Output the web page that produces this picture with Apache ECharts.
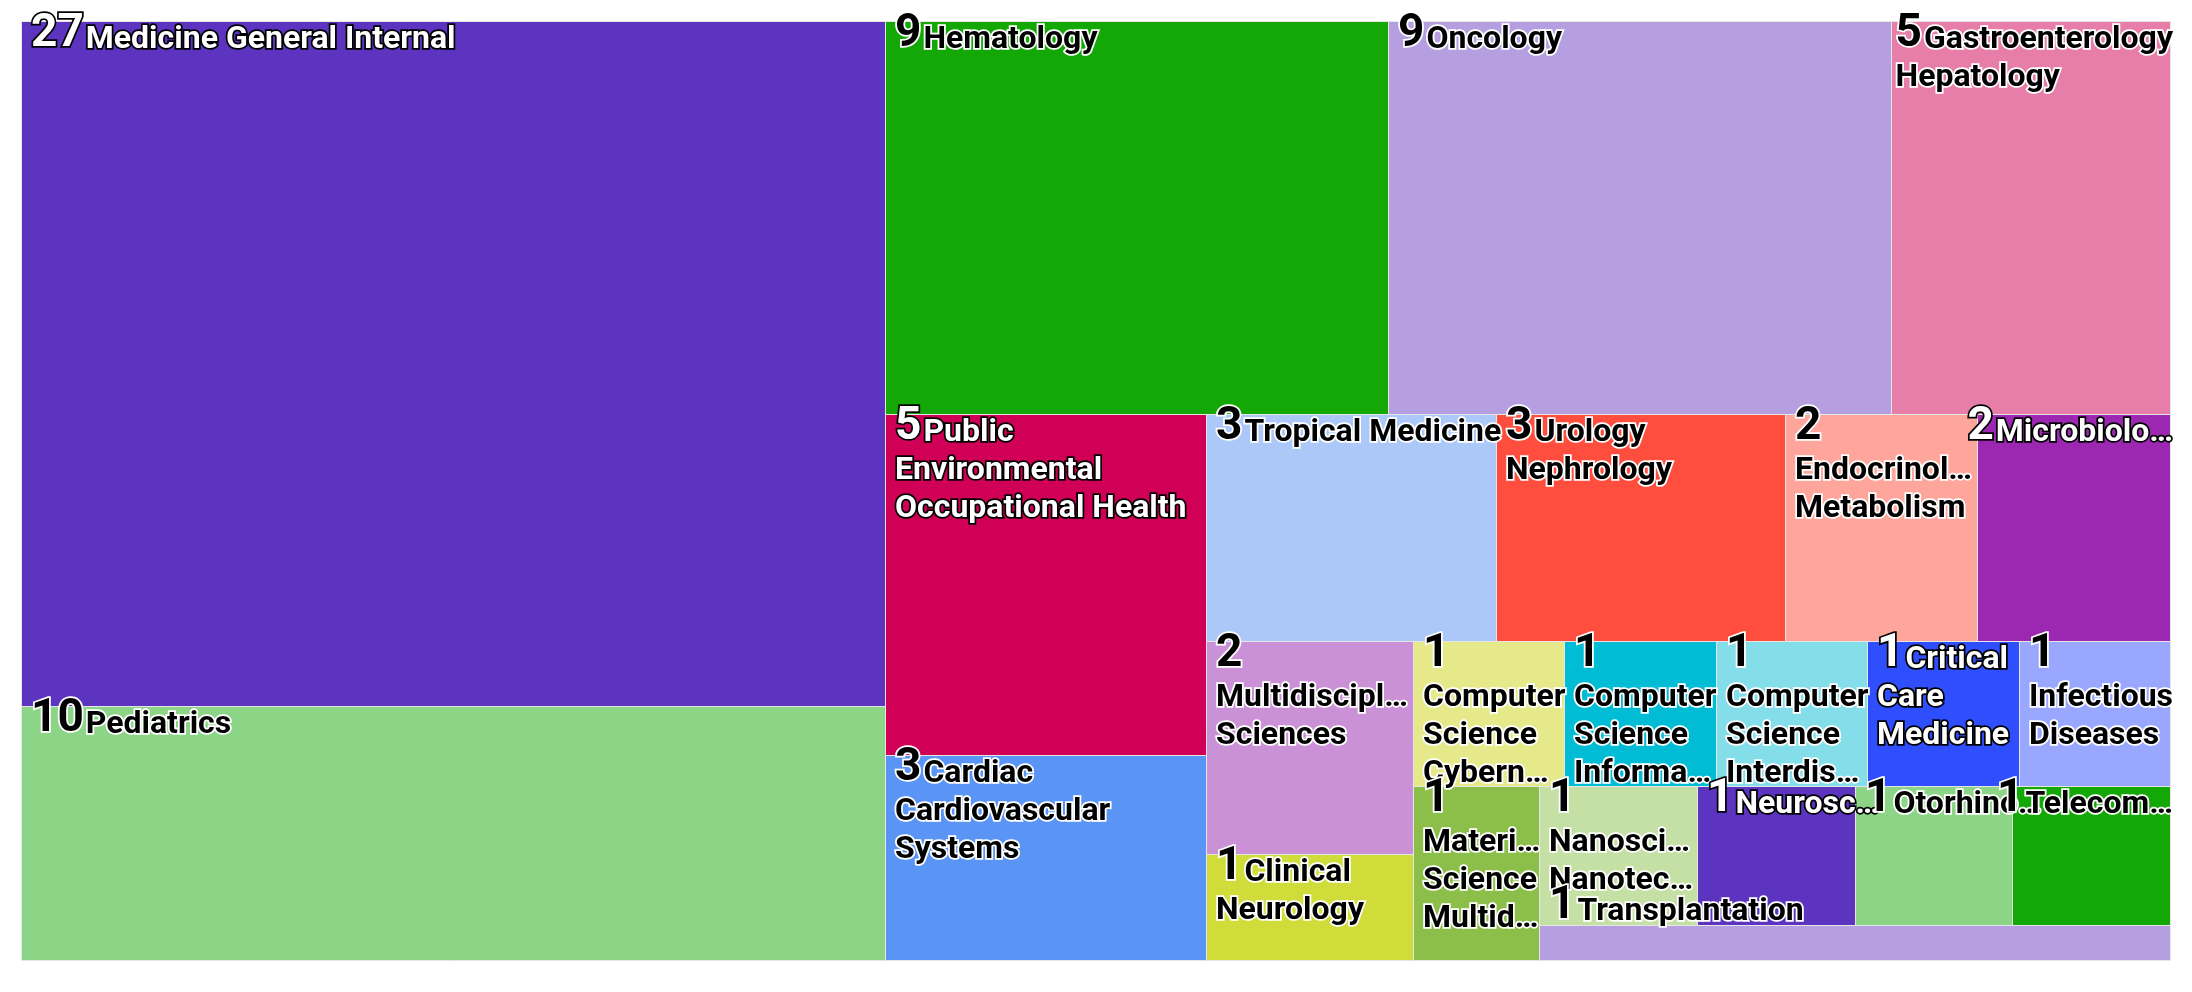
<!DOCTYPE html>
<html lang="en">
<head>
<meta charset="UTF-8">
<title>Treemap</title>
<script src="https://cdn.jsdelivr.net/npm/echarts@6/dist/echarts.min.js"></script>
<style>
  html, body { margin: 0; padding: 0; background: #fff; }
  #main { width: 2192px; height: 992px; }
</style>
</head>
<body>
<div id="main"></div>
<script>
// subject categories, sorted by count (ties alphabetical)
const categories = [
  'Medicine General Internal', 'Pediatrics', 'Hematology', 'Oncology',
  'Gastroenterology Hepatology', 'Public Environmental Occupational Health',
  'Cardiac Cardiovascular Systems', 'Tropical Medicine', 'Urology Nephrology',
  'Endocrinology Metabolism', 'Microbiology', 'Multidisciplinary Sciences',
  'Clinical Neurology', 'Computer Science Cybernetics',
  'Computer Science Information Systems',
  'Computer Science Interdisciplinary Applications', 'Critical Care Medicine',
  'Infectious Diseases', 'Materials Science Multidisciplinary',
  'Nanoscience Nanotechnology', 'Neurosciences', 'Otorhinolaryngology',
  'Telecommunications', 'Transplantation'
];
const counts = [27, 10, 9, 9, 5, 5, 3, 3, 3, 2, 2, 2, 1, 1, 1, 1, 1, 1, 1, 1, 1, 1, 1, 1];

// one colour per category, same order as above
const cellColors = [
  '#5c34c0', '#8cd586', '#13a805', '#b59fe0',
  '#e67ea9', '#cf0055',
  '#5a95f5', '#abc8f8', '#ff4e3e',
  '#ffa69c', '#9c27b0', '#ca91d6',
  '#cfdc39', '#e5e98a',
  '#00bcd4',
  '#83deea', '#2f4ffe',
  '#99a7fe', '#8bbf4a',
  '#c5e0a5', '#5c34c0', '#8cd586',
  '#13a805', '#b59fe0'
];

const NUM_FONT = 'bold 46px Roboto';
const NAME_FONT = 'bold 32px Roboto';
const GRID = { left: 21, top: 21, right: 22, bottom: 32 };

// ---- text measuring / wrapping ----
const ctx = document.createElement('canvas').getContext('2d');
function measure(str, font) {
  ctx.font = font;
  return ctx.measureText(str).width;
}
function truncate(word, limit) {
  for (let n = word.length - 1; n > 0; n--) {
    const s = word.slice(0, n) + '\u2026';
    if (measure(s, NAME_FONT) <= limit) return s;
  }
  return word.charAt(0) + '\u2026';
}
function buildLines(num, name, cellW) {
  const numW = measure(num, NUM_FONT) + 2;
  const spaceW = measure(' ', NAME_FONT);
  const words = name.split(' ');
  const fit = cellW + 1;
  const firstCut = cellW - 7;
  const cut = cellW < 140 ? cellW - 7 : cellW - 9;
  const lines = [{ num: num, numW: numW, text: '', width: numW }];
  let cur = lines[0];
  words.forEach(function (w) {
    const ww = measure(w, NAME_FONT);
    const gap = cur.text ? spaceW : 0;
    if (cur.width + gap + ww <= fit) {
      cur.text += (cur.text ? ' ' : '') + w;
      cur.width += gap + ww;
      return;
    }
    if (words.length === 1) {
      cur.text = truncate(w, firstCut);
      cur.width += measure(cur.text, NAME_FONT);
      return;
    }
    cur = { num: '', numW: 0, text: '', width: 0 };
    lines.push(cur);
    cur.text = ww <= fit ? w : truncate(w, cut);
    cur.width = measure(cur.text, NAME_FONT);
  });
  return lines;
}

// WCAG contrast like the original labels: white on dark, black on light
function isDark(hex) {
  const lin = [1, 3, 5].map(function (k) {
    const c = parseInt(hex.slice(k, k + 2), 16) / 255;
    return c <= 0.03928 ? c / 12.92 : Math.pow((c + 0.055) / 1.055, 2.4);
  });
  const l = 0.2126 * lin[0] + 0.7152 * lin[1] + 0.0722 * lin[2];
  return 1.05 / (l + 0.05) > (l + 0.05) / 0.05;
}

// ---- squarified layout with alternating direction ----
function Group(h, w, d, plot) {
  this.height = h; this.width = w; this.plot = plot; this.direction = d;
  this.total = 0; this.nW = 0; this.lW = 0; this.nH = 0; this.lH = 0;
  this.elArr = [];
  this.lP = { total: 0, lH: 0, nH: 0, lW: 0, nW: 0, nR: 0, lR: 0 };
}
function ratio(a, b) { return Math.max(a / b, b / a); }
Group.prototype.addElement = function (el) {
  const lP = this.lP;
  lP.total = this.elArr[this.elArr.length - 1];
  this.total += el;
  if (this.direction === 0) {
    this.lW = this.nW;
    lP.lH = lP.total / this.lW;
    lP.lR = ratio(this.lW, lP.lH);
    this.nW = this.total / this.height;
    lP.nH = lP.total / this.nW;
    lP.nR = ratio(this.nW, lP.nH);
  } else {
    this.lH = this.nH;
    lP.lW = lP.total / this.lH;
    lP.lR = ratio(lP.lW, this.lH);
    this.nH = this.total / this.width;
    lP.nW = lP.total / this.nH;
    lP.nR = ratio(lP.nW, this.nH);
  }
  this.elArr.push(el);
};
Group.prototype.reset = function () {
  this.nW = 0; this.lW = 0; this.elArr = []; this.total = 0;
};
function calcPoints(last, group, out) {
  const plot = group.plot;
  const end = group.elArr.length - 1;
  let gW = group.lW, gH = group.lH, keep;
  if (last) { gW = group.nW; gH = group.nH; } else { keep = group.elArr[end]; }
  group.elArr.forEach(function (p, i) {
    if (last || i < end) {
      let pW, pH;
      if (group.direction === 0) { pW = gW; pH = p / pW; } else { pH = gH; pW = p / pH; }
      out.push({ x: plot.x, y: plot.y, width: pW, height: pH });
      if (group.direction === 0) plot.y += pH; else plot.x += pW;
    }
  });
  group.reset();
  if (group.direction === 0) group.width -= gW; else group.height -= gH;
  plot.y = plot.parent.y + (plot.parent.height - group.height);
  plot.x = plot.parent.x + (plot.parent.width - group.width);
  group.direction = 1 - group.direction;
  if (!last) group.addElement(keep);
}
function layout(W, H, values) {
  const total = values.reduce(function (a, b) { return a + b; }, 0);
  const parent = { x: 0, y: 0, width: W, height: H };
  const plot = { x: 0, y: 0, parent: parent };
  const group = new Group(H, W, 0, plot);
  const out = [];
  values.forEach(function (v, i) {
    group.addElement(W * H * v / total);
    if (group.lP.nR > group.lP.lR) calcPoints(false, group, out);
    if (i === values.length - 1) calcPoints(true, group, out);
  });
  return out;
}

const chart = echarts.init(document.getElementById('main'));
const plotW = chart.getWidth() - GRID.left - GRID.right;
const plotH = chart.getHeight() - GRID.top - GRID.bottom;
const SPACE_W = 100 * plotW / plotH;
const SPACE_H = 100;

const cells = layout(SPACE_W, SPACE_H, counts).map(function (r, i) {
  return [r.x, r.y, r.x + r.width, r.y + r.height, i];
});

function renderCell(params, api) {
  const i = api.value(4);
  const p0 = api.coord([api.value(0), api.value(1)]);
  const p1 = api.coord([api.value(2), api.value(3)]);
  const cs = params.coordSys;
  const x0 = Math.round(Math.min(p0[0], p1[0]));
  const y0 = Math.round(Math.min(p0[1], p1[1]));
  const x1 = Math.round(Math.max(p0[0], p1[0]));
  const y1 = Math.round(Math.max(p0[1], p1[1]));
  const w = x1 - x0, h = y1 - y0;
  const color = cellColors[i];
  const dark = isDark(color);
  const fill = dark ? '#ffffff' : '#000000';
  const outline = dark ? '#000000' : '#ffffff';

  const children = [{
    type: 'rect',
    z2: 0,
    shape: { x: x0 + 0.5, y: y0 + 0.5, width: w, height: h },
    style: { fill: color, stroke: '#e6e6e6', lineWidth: 1 }
  }];

  const lines = buildLines(String(counts[i]), categories[i], w);
  let base = y0 + 29.5;
  if (h < 42) base = Math.min(y1, cs.y + cs.height) - 37.5;
  let tx = x0 + 10;
  const maxRight = tx + Math.max.apply(null, lines.map(function (l) { return l.width; }));
  const plotRight = cs.x + cs.width;
  if (maxRight > plotRight + 8) tx -= maxRight - (plotRight + 3);

  lines.forEach(function (line, k) {
    const by = base + 38 * k;
    if (h >= 42 && by - y0 > h + 2) return;
    if (line.num) {
      children.push({
        type: 'text', z2: 10,
        style: {
          text: line.num, x: tx, y: by - 0.342 * 46, font: NUM_FONT,
          fill: fill, stroke: outline, lineWidth: 3.5,
          align: 'left', verticalAlign: 'middle'
        }
      });
    }
    if (line.text) {
      children.push({
        type: 'text', z2: 10,
        style: {
          text: line.text, x: tx + line.numW, y: by - 0.342 * 32, font: NAME_FONT,
          fill: fill, stroke: outline, lineWidth: 3.5,
          align: 'left', verticalAlign: 'middle'
        }
      });
    }
  });
  return { type: 'group', children: children };
}

chart.setOption({
  animation: false,
  grid: { left: GRID.left, top: GRID.top, right: GRID.right, bottom: GRID.bottom, show: false },
  xAxis: { type: 'value', min: 0, max: SPACE_W, show: false },
  yAxis: { type: 'value', min: 0, max: SPACE_H, inverse: true, show: false },
  series: [{
    type: 'custom',
    coordinateSystem: 'cartesian2d',
    clip: false,
    encode: { x: [0, 2], y: [1, 3] },
    renderItem: renderCell,
    data: cells
  }]
});
</script>
</body>
</html>
